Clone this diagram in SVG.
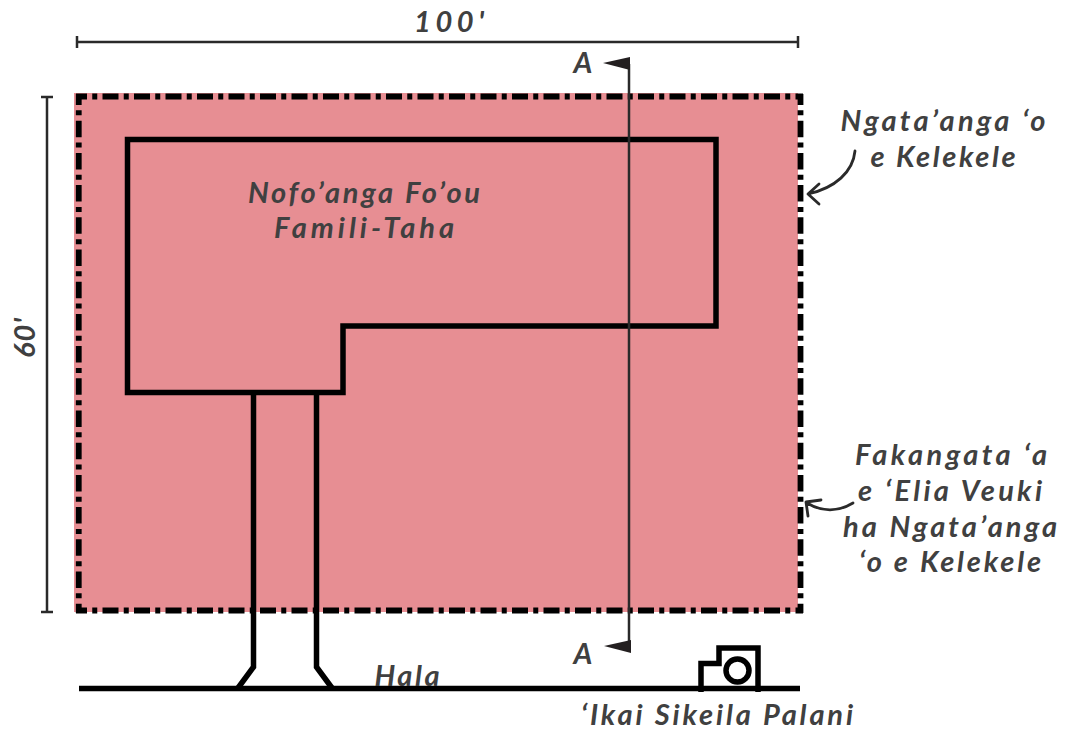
<svg xmlns="http://www.w3.org/2000/svg" width="1073" height="732" viewBox="0 0 1073 732">
<style>
text{font-family:"Lato","Open Sans","Liberation Sans",sans-serif;font-style:italic;font-weight:700;font-size:29px;fill:#404040;text-anchor:middle}
.thick{fill:none;stroke:#000;stroke-width:5.5;stroke-linejoin:miter}
.dim{fill:none;stroke:#2a2a2a;stroke-width:2.5}
.curve{fill:none;stroke:#2a2a2a;stroke-width:2.8;stroke-linecap:round;stroke-linejoin:round}
.edge-h{fill:none;stroke:#000;stroke-width:5.8;stroke-dasharray:16 5.250 5 5.250;stroke-dashoffset:5}
.edge-v{fill:none;stroke:#000;stroke-width:5.8;stroke-dasharray:16.500 5.350 5 5.350;stroke-dashoffset:5.500}
</style>
<rect width="1073" height="732" fill="#fff"/>
<g id="lot">
<rect x="74" y="93" width="724" height="519" fill="#e78e93"/>
<path class="edge-h" d="M76 96.500H803"/>
<path class="edge-h" d="M76 610.500H803"/>
<path class="edge-v" d="M78.750 94V613"/>
<path class="edge-v" d="M800.500 94V613"/>
</g>
<g id="house"><path class="thick" d="M127.500 139.500H716V326H343V392.500H127.500Z"/></g>
<g id="driveway"><path class="thick" d="M253.500 392V667L238 688M316.500 392V667L332 688"/></g>
<g id="road"><path class="thick" d="M79 688.500H800"/></g>
<g id="camera">
<path class="thick" d="M701 692V663.500H719V648H758V692"/>
<circle cx="737.500" cy="670.500" r="11.500" fill="none" stroke="#000" stroke-width="5.500"/>
</g>
<g id="connectors">
<path class="dim" d="M77 36V48M77 42H798M798 36V48"/>
<path class="dim" d="M41 97H53M47 97V612M41 612H53"/>
<path d="M629 64V646" fill="none" stroke="#2a2a2a" stroke-width="2.500"/>
<path d="M603 63L630 57V70Z" fill="#231f20"/>
<path d="M604 646L631 640V653Z" fill="#231f20"/>
<path class="curve" d="M855 151C853 172 835 188 808 194M819 184L808 194L819 204"/>
<path class="curve" d="M853 503C838 512 822 512 807 503M821 500L806 502L808 516"/>
</g>
<g id="labels">
<text x="449" y="32" textLength="70">100'</text>
<text transform="translate(35 338) rotate(-90)" x="0" y="0" textLength="40">60'</text>
<text x="583" y="73">A</text>
<text x="583" y="664">A</text>
<text x="364" y="203" textLength="232">Nofo’anga Fo’ou</text>
<text x="364" y="238" textLength="180">Famili-Taha</text>
<text x="943" y="131" textLength="205">Ngata’anga ‘o</text>
<text x="943" y="167" textLength="145">e Kelekele</text>
<text x="951" y="465" textLength="192">Fakangata ‘a</text>
<text x="950" y="501" textLength="184">e ‘Elia Veuki</text>
<text x="950" y="537" textLength="214">ha Ngata’anga</text>
<text x="950" y="572" textLength="182">‘o e Kelekele</text>
<text x="407" y="686" textLength="65">Hala</text>
<text x="717" y="725" textLength="272">‘Ikai Sikeila Palani</text>
</g>
</svg>
